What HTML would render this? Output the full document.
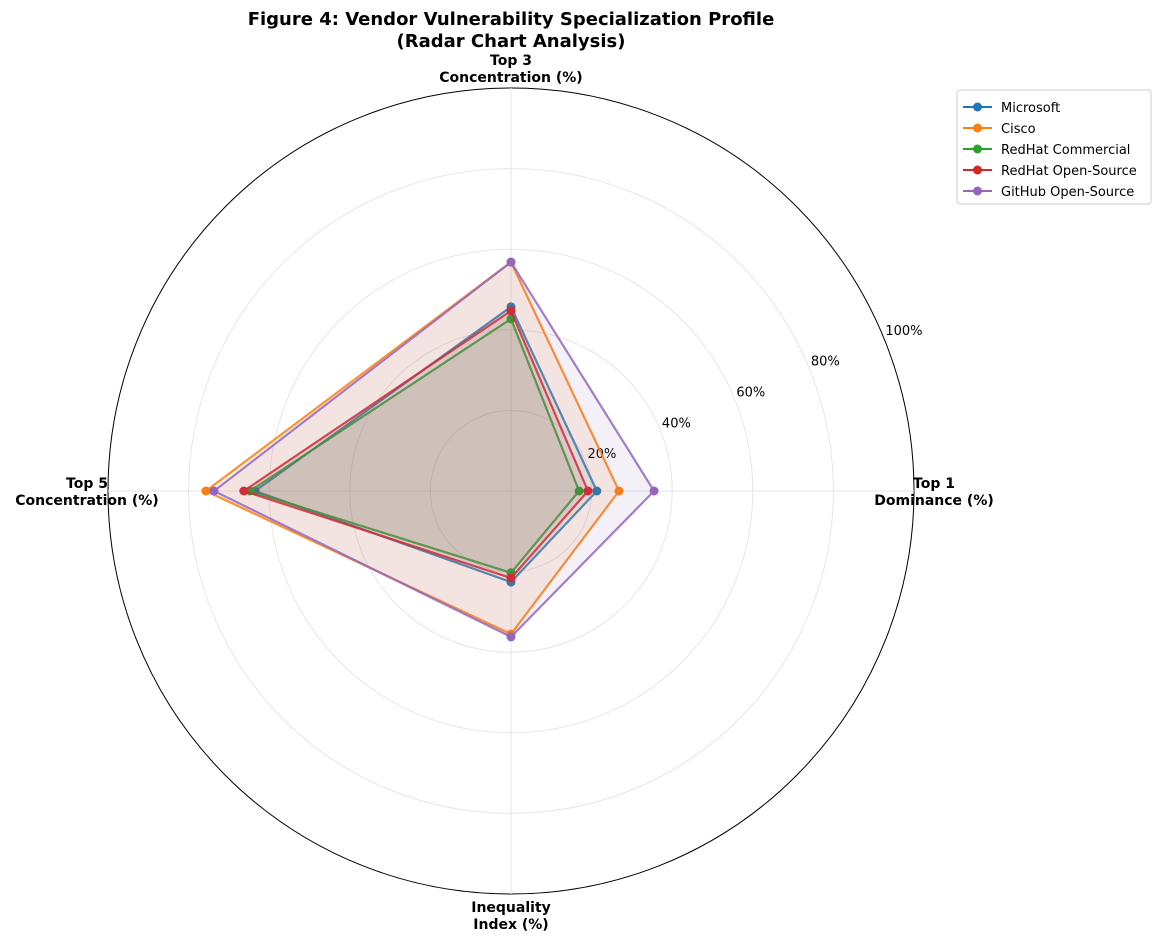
<!DOCTYPE html>
<html><head><meta charset="utf-8"><style>
body{margin:0;background:#fff;font-family:"Liberation Sans","DejaVu Sans",sans-serif}
</style></head><body>
<svg id="chart" width="1161" height="942" xmlns="http://www.w3.org/2000/svg" font-family="DejaVu Sans, Liberation Sans, sans-serif">
<text x="511" y="25" text-anchor="middle" font-size="18" font-weight="bold">Figure 4: Vendor Vulnerability Specialization Profile</text>
<text x="511" y="47" text-anchor="middle" font-size="18" font-weight="bold">(Radar Chart Analysis)</text>
<g id="grid"></g><g id="series"></g><g id="labels"></g><g id="legend"></g>
</svg>
<script>
const categories=["Top 1\nDominance (%)","Top 3\nConcentration (%)","Top 5\nConcentration (%)","Inequality\nIndex (%)"];
const seriesNames=["Microsoft","Cisco","RedHat Commercial","RedHat Open-Source","GitHub Open-Source"];
const microsoft=[21.3,45.7,63.5,22.6];
const cisco=[26.8,56.8,75.7,35.5];
const redhatCommercial=[16.9,42.7,64.8,20.3];
const redhatOpenSource=[19.1,44.7,66.3,21.6];
const githubOpenSource=[35.5,56.8,73.7,36.2];
const tickValues=[20,40,60,80,100];
const tickLabels=["20%","40%","60%","80%","100%"];
const colors=["#1f77b4","#ff7f0e","#2ca02c","#d62728","#9467bd"];
const data=[microsoft,cisco,redhatCommercial,redhatOpenSource,githubOpenSource];
const NS="http://www.w3.org/2000/svg",cx=511,cy=491,R=403;
function r(v){return v/100*R;}
function ang(i){return i*Math.PI/2;}
function pt(i,v){return [cx+r(v)*Math.cos(ang(i)),cy-r(v)*Math.sin(ang(i))];}
function mk(t,a,p){const e=document.createElementNS(NS,t);for(const k in a)e.setAttribute(k,a[k]);p.appendChild(e);return e;}
const g=document.getElementById('grid');
tickValues.forEach((t,k)=>{const c=mk('circle',{cx:cx,cy:cy,r:r(t),fill:'none',stroke:t===100?'#000':'#e6e6e6','stroke-width':1},g);


const a=22.5*Math.PI/180;const tx=mk('text',{x:cx+r(t)*Math.cos(a)+2,y:cy-r(t)*Math.sin(a)-2,'font-size':13},g);tx.textContent=tickLabels[k];

});
categories.forEach((c,i)=>{const p=pt(i,100);const l=mk('line',{x1:cx,y1:cy,x2:p[0],y2:p[1],stroke:'#e6e6e6'},g);

});
const lab=[[934,488],[511,65],[87,488],[511,912]];
const L=document.getElementById('labels');
categories.forEach((c,i)=>{const t=mk('text',{x:lab[i][0],y:lab[i][1],'text-anchor':'middle','font-size':14,'font-weight':'bold'},L);


c.split("\n").forEach((s,j)=>{const ts=mk('tspan',{x:lab[i][0],dy:j?17:0},t);ts.textContent=s;});});
const S=document.getElementById('series');
data.forEach((d,s)=>{const pts=d.map((v,i)=>pt(i,v));const ps=pts.map(p=>p.join(',')).join(' ');
const f=mk('polygon',{points:ps,fill:colors[s],'fill-opacity':0.1,stroke:'none'},S);


const ln=mk('polygon',{points:ps,fill:'none',stroke:colors[s],'stroke-width':2.2,'stroke-opacity':0.85},S);


pts.forEach(p=>{const m=mk('circle',{cx:p[0],cy:p[1],r:4.5,fill:colors[s]},S);

});});
const G=document.getElementById('legend');
const box=mk('rect',{x:957,y:90,width:194,height:114,rx:3,fill:'#fff',stroke:'#ccc'},G);


seriesNames.forEach((n,s)=>{const y=107+s*21;
const ln=mk('line',{x1:963,y1:y,x2:992,y2:y,stroke:colors[s],'stroke-width':2},G);


const m=mk('circle',{cx:977.5,cy:y,r:4.5,fill:colors[s]},G);


const t=mk('text',{x:1001,y:y+5,'font-size':13},G);t.textContent=n;

});
</script>
</body></html>
